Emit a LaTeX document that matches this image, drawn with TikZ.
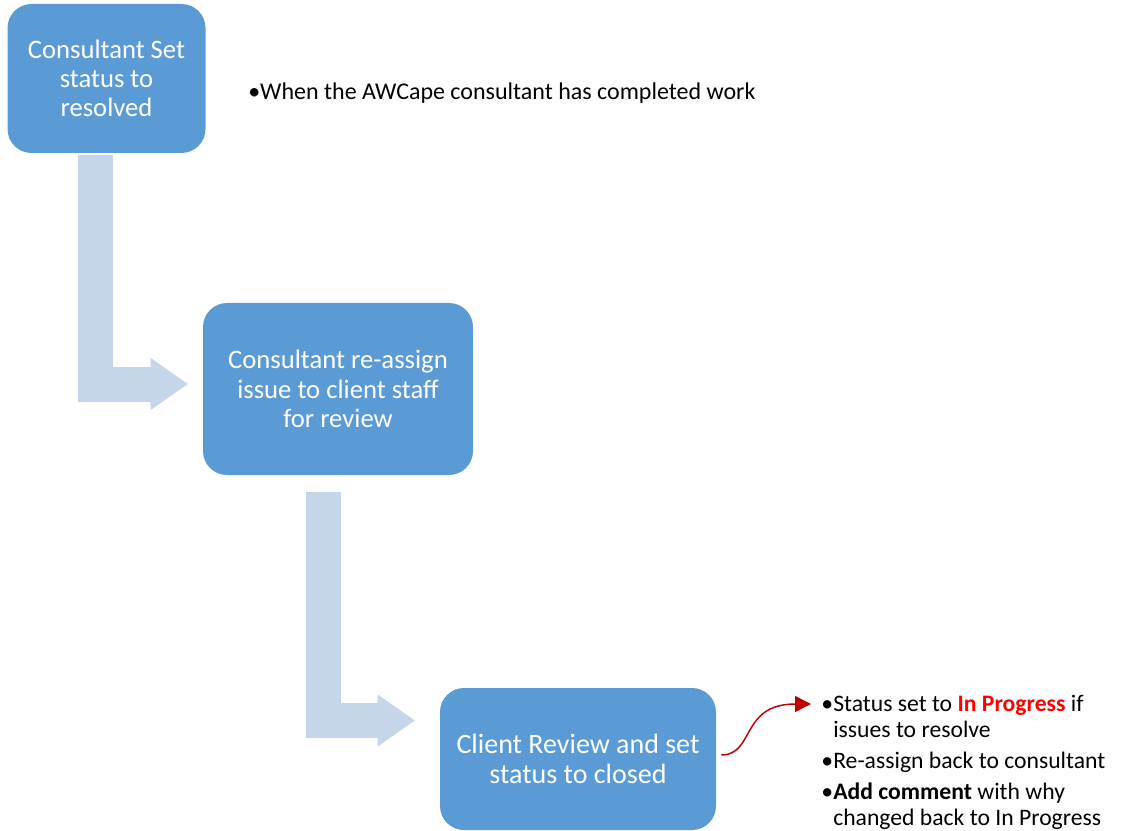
\documentclass[tikz,border=0pt]{standalone}
\usepackage{fontspec}
\setmainfont{Carlito}
\usetikzlibrary{arrows.meta, calc}

\definecolor{boxblue}{HTML}{5B9BD5}
\definecolor{flowblue}{HTML}{C5D5EA}
\definecolor{tipred}{HTML}{C00000}
\definecolor{hotred}{HTML}{FF0000}

\begin{document}
\begin{tikzpicture}[x=0.75pt, y=-0.75pt,
  box/.style={fill=boxblue, rounded corners=18pt, text=white, align=center, inner sep=0pt, font=\fontsize{20}{22}\selectfont},
  flow/.style={draw=flowblue, line width=26.25pt, line join=miter, -{Triangle[length=27.75pt, width=39pt, line width=0pt]}},
  note/.style={inner sep=0pt, align=left, font=\fontsize{17.75}{19.5}\selectfont}]
	\useasboundingbox (0,0) rectangle (1122,831);
	% the three steps
	\node[box, minimum width=148.5pt, minimum height=111.75pt] (set) at (106.5,78.5) {Consultant Set\\status to\\resolved};
	\node[box, minimum width=202.5pt, minimum height=129pt] (assign) at (338,389) {Consultant re-assign\\issue to client staff\\for review};
	\node[box, minimum width=207pt, minimum height=106.5pt, font=\fontsize{21}{22.5}\selectfont] (review) at (578,759) {Client Review and set\\status to closed};
	% bent block arrows
	\draw[flow] ($(set.south)+(-11,2)$) |- ($(assign.west)+(-15,-5)$);
	\draw[flow] ($(assign.south)+(-15,17)$) |- ($(review.west)+(-25,-38.5)$);
	% notes
	\node[note, anchor=west, font=\fontsize{18}{19.5}\selectfont] (when) at (248,93) {•When the AWCape consultant has completed work};
	\node[note, anchor=north west] (back) at (833,695) {%
	  \llap{•}Status set to \textcolor{hotred}{\textbf{In Progress}} if\\
	  issues to resolve\\[3.75pt]
	  \llap{•}Re-assign back to consultant\\[3.75pt]
	  \llap{•}\textbf{Add comment} with why\\
	  changed back to In Progress};
	\coordinate (hit) at (811,704);
	\draw[tipred, line width=1.1pt, -{Triangle[length=12pt, width=12pt]}] ($(review.east)+(5,-4)$) .. controls (755,755) and (740,704) .. (hit);
\end{tikzpicture}
\end{document}
